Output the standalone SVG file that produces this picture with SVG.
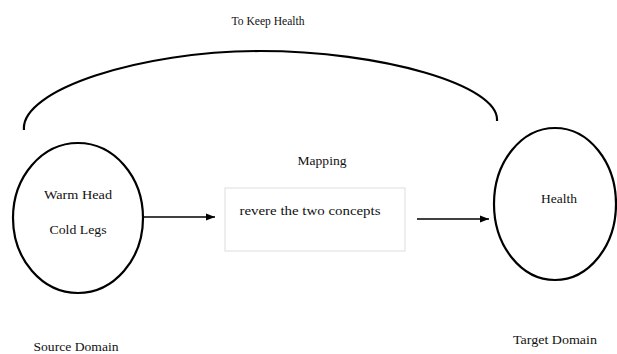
<svg xmlns="http://www.w3.org/2000/svg" width="617" height="354" viewBox="0 0 617 354">
  <defs>
    <marker id="arrow" viewBox="0 0 10 10" refX="10" refY="5" markerWidth="9" markerHeight="9" markerUnits="userSpaceOnUse" orient="auto">
      <path d="M0,1 L10,5 L0,9 Z" fill="#000"/>
    </marker>
    <style>
      text { font-family: 'Liberation Serif', 'DejaVu Serif', serif; font-size: 13.5px; fill: #111; text-anchor: middle; }
      .domain { fill: #fff; stroke: #000; stroke-width: 2.2; }
      .link { fill: none; stroke: #000; stroke-width: 1.3; }
    </style>
  </defs>
  <rect width="617" height="354" fill="#fff"/>

  <g id="connectors">
    <!-- overarching arc between the two domains -->
    <path d="M24,130 C20,90 140,51 260,51 C380,51 500,85 497,121" fill="none" stroke="#000" stroke-width="2.2"/>
    <line class="link" x1="144" y1="217" x2="215" y2="217" marker-end="url(#arrow)"/>
    <line class="link" x1="417" y1="219" x2="489" y2="219" marker-end="url(#arrow)"/>
  </g>

  <g id="title">
    <text x="268" y="25" textLength="73" lengthAdjust="spacingAndGlyphs">To Keep Health</text>
  </g>

  <g id="source">
    <ellipse class="domain" cx="78" cy="218" rx="65" ry="75"/>
    <text x="78" y="199" textLength="68" lengthAdjust="spacingAndGlyphs">Warm Head</text>
    <text x="78" y="234" textLength="57" lengthAdjust="spacingAndGlyphs">Cold Legs</text>
  </g>

  <g id="mapping">
    <text x="322" y="165" textLength="49" lengthAdjust="spacingAndGlyphs">Mapping</text>
    <rect x="225" y="188" width="180" height="63" fill="#fff" stroke="#ddd" stroke-width="1"/>
    <text x="310" y="215" textLength="141" lengthAdjust="spacingAndGlyphs">revere the two concepts</text>
  </g>

  <g id="target">
    <ellipse class="domain" cx="555" cy="204" rx="61" ry="76"/>
    <text x="559" y="203" textLength="36" lengthAdjust="spacingAndGlyphs">Health</text>
  </g>

  <g id="labels">
    <text x="76" y="351" textLength="85" lengthAdjust="spacingAndGlyphs">Source Domain</text>
    <text x="555" y="344" textLength="84" lengthAdjust="spacingAndGlyphs">Target Domain</text>
  </g>
</svg>
